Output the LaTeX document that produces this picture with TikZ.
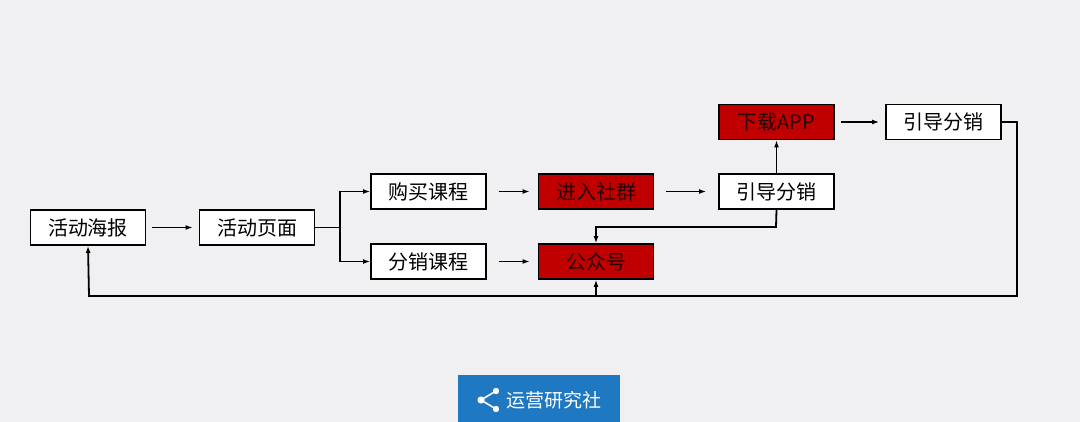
\documentclass[tikz,border=0pt]{standalone}
\usepackage{fontspec}
\setmainfont{Liberation Sans}
\newfontfamily\cjk{Noto Sans CJK SC}
\usetikzlibrary{arrows.meta}
\definecolor{bg}{HTML}{F0F0F2}
\definecolor{redbox}{HTML}{C00000}
\definecolor{logoblue}{HTML}{1E78C2}
\tikzset{
 box/.style={draw=black,line width=1.8pt,fill=white,minimum width=115pt,minimum height=35pt,inner sep=0pt,font=\cjk\fontsize{20}{24}\selectfont},
 rbox/.style={box,fill=redbox,text=black!85!red},
 arr/.style={line width=1.8pt,-{Latex[length=7pt,width=5pt]}},
 ln/.style={line width=1.8pt}
}
\begin{document}
\begin{tikzpicture}[x=1pt,y=-1pt]
\fill[bg] (0,0) rectangle (1080,422);
\useasboundingbox (0,0) rectangle (1080,422);
\node[box] (poster) at (88,227.5) {活动海报};
\node[box] (page) at (257,227.5) {活动页面};
\node[box] (buy) at (428.5,191.5) {购买课程};
\node[box] (dist) at (428.5,261.5) {分销课程};
\node[rbox] (group) at (596,191.5) {进入社群};
\node[rbox] (gzh) at (596,261.5) {公众号};
\node[box] (guide1) at (776.5,191.5) {引导分销};
\node[rbox] (app) at (776.5,122) {下载APP};
\node[box] (guide2) at (943.5,122) {引导分销};
\coordinate (split) at (340,227.5);
\coordinate (mid) at (776,227);
\coordinate (midL) at (596,227);
\coordinate (r1) at (1017,122);
\coordinate (r2) at (1017,296);
\coordinate (bl) at (89,296);
\coordinate (bm) at (596,296);
\draw[arr] ([xshift=6pt]poster.east) -- ([xshift=-6pt]page.west);
\draw[ln] (page.east) -- (split);
\draw[arr] (split) |- (buy.west);
\draw[arr] (split) |- (dist.west);
\draw[arr] ([xshift=12pt]buy.east) -- ([xshift=-8pt]group.west);
\draw[arr] ([xshift=12pt]dist.east) -- ([xshift=-8pt]gzh.west);
\draw[arr] ([xshift=12pt]group.east) -- ([xshift=-12pt]guide1.west);
\draw[arr] (guide1.north) -- (app.south);
\draw[arr] ([xshift=6pt]app.east) -- ([xshift=-6pt]guide2.west);
\draw[arr] (guide1.south) -- (mid) -- (midL) -- (gzh.north);
\draw[arr] (guide2.east) -- (r1) -- (r2) -- (bl) -- (poster.south);
\draw[arr] (bm) -- (gzh.south);
\fill[logoblue] (458,375) rectangle (620,422);
\fill[white] (496,391) circle (3.2) (481,400) circle (3.6) (496,409) circle (3.2);
\draw[white,line width=1.6pt] (496,391) -- (481,400) -- (496,409);
\node[text=white,font=\cjk\fontsize{19}{22}\selectfont,anchor=west] (logo) at (503,400) {运营研究社};
\end{tikzpicture}
\end{document}
